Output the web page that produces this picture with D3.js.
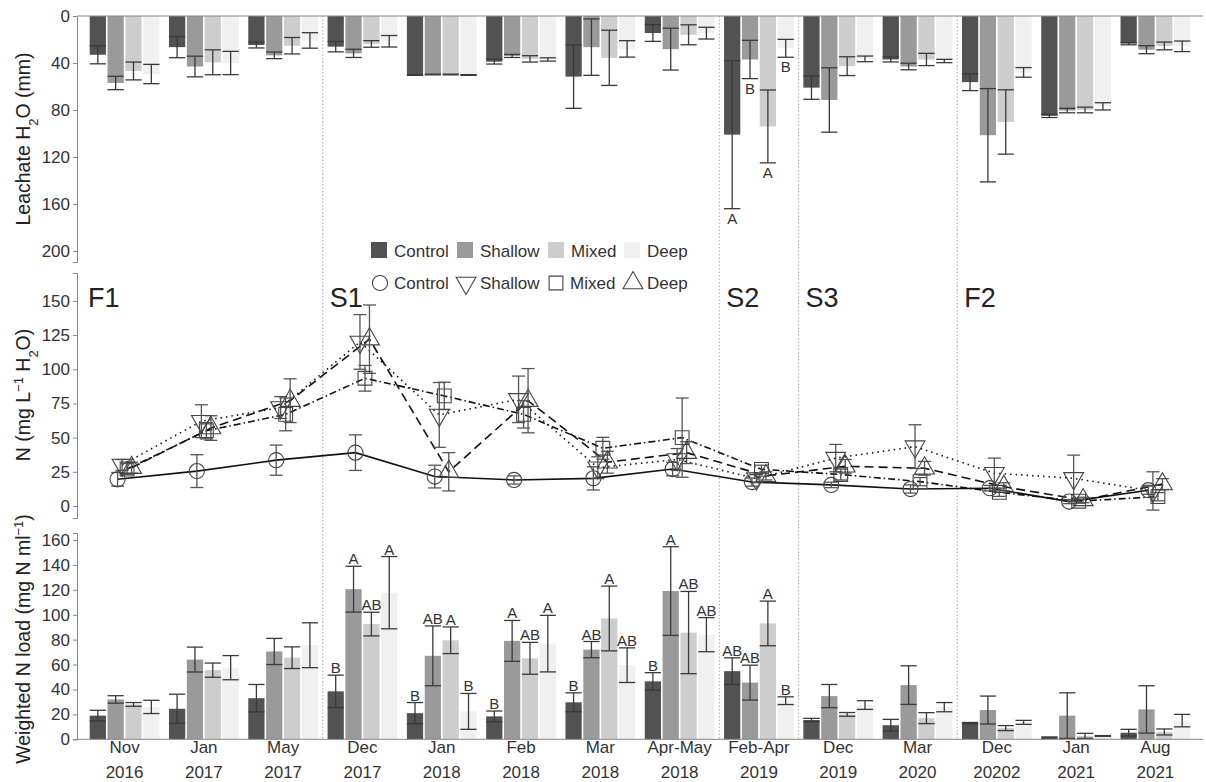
<!DOCTYPE html>
<html>
<head>
<meta charset="utf-8">
<script src="https://cdn.jsdelivr.net/npm/d3@7"></script>
<style>
  body { margin: 0; background: #fff; }
  svg { font-family: "Liberation Sans", Arial, sans-serif; }
</style>
</head>
<body>
<div id="vis-container"></div>
<script>
// categories
var months = ["Nov", "Jan", "May", "Dec", "Jan", "Feb", "Mar", "Apr-May", "Feb-Apr", "Dec", "Mar", "Dec", "Jan", "Aug"];
var years = ["2016", "2017", "2017", "2017", "2018", "2018", "2018", "2018", "2019", "2019", "2020", "20202", "2021", "2021"];
var treatments = ["Control", "Shallow", "Mixed", "Deep"];
var seasons = ["F1", "S1", "S2", "S3", "F2"];
var seasonStart = [0, 3, 8, 9, 11];

// leachate H2O (mm), rows = Control, Shallow, Mixed, Deep
var leachMean = [
	[33, 26.5, 24.7, 26.1, 50.2, 38.9, 51.6, 14.5, 101, 61, 37, 56.3, 85, 23.5],
	[57, 43, 33.5, 31.8, 49.8, 34, 26.5, 28.2, 37, 71.5, 43, 101.5, 80.5, 28.7],
	[46.8, 39.4, 25.3, 23.8, 49.8, 36.5, 35.6, 16, 94, 42.7, 37, 90.2, 80, 25.5],
	[49.4, 40, 20.8, 21.5, 50.2, 37, 28, 14.6, 27.5, 36.5, 38.3, 48, 76.9, 25.8]
];
var leachSe = [
	[7.7, 9, 2.5, 4.4, 0.3, 2, 27, 7.1, 63, 9.9, 2.1, 7.2, 1.4, 1],
	[5.7, 8.8, 2.8, 3.5, 0.3, 1.3, 24, 17.8, 16.3, 27.4, 2.8, 39.7, 1.9, 3.4],
	[7.6, 10.6, 7, 2.8, 0.3, 2.7, 23.5, 8.5, 31, 8, 5.2, 27.4, 2.4, 3.3],
	[8.2, 9.9, 6.6, 4.9, 0.3, 1.4, 7, 5, 7.6, 2.4, 1.4, 4.1, 3.1, 4.5]
];
var leachLetters = [
	["", "", "", "", "", "", "", "", "A", "", "", "", "", ""],
	["", "", "", "", "", "", "", "", "B", "", "", "", "", ""],
	["", "", "", "", "", "", "", "", "A", "", "", "", "", ""],
	["", "", "", "", "", "", "", "", "B", "", "", "", "", ""]
];

// N concentration (mg L-1 H2O)
var nMean = [
	[19.5, 25.5, 33.5, 39, 21.5, 19, 20.2, 27, 17.5, 15.4, 12.4, 13, 3.2, 11.5],
	[30, 62, 72, 120, 66.6, 78, 28, 34, 20, 35, 43.4, 24, 20.2, 11],
	[27, 55, 67, 93.4, 80.5, 67, 42.2, 50, 26.8, 23, 17.8, 10, 3.5, 6.8],
	[28, 57, 77, 122, 25, 77, 32, 39, 22, 29, 27.6, 14, 4.4, 16]
];
var nSe = [
	[5, 12, 11, 13, 8.3, 3, 8.5, 5, 3, 2, 3, 2, 1.5, 3],
	[4, 12, 8, 20, 23.7, 17, 8, 8, 3, 10, 16, 11, 17, 14],
	[4, 6, 12, 9.4, 10, 10, 8, 29, 3, 4, 3, 3, 1.5, 3],
	[4, 9, 16, 25, 14, 23.5, 8, 8, 3, 5, 5, 3, 2, 4]
];

// weighted N load (mg N ml-1)
var loadMean = [
	[19, 24.5, 33, 38.5, 21, 18.4, 29.7, 46.5, 54.7, 15.5, 11.3, 13, 1.6, 5.3],
	[32, 64, 70.5, 120.5, 67, 79, 72, 119, 45.5, 34.7, 43.5, 23.5, 19, 24],
	[28, 55.5, 65.5, 92.5, 79.5, 65, 97, 85.7, 93, 20, 17, 9, 2.8, 5.9],
	[26, 57.5, 75.5, 117.7, 22.4, 76.8, 59.5, 84, 31, 27.5, 25.8, 13.6, 2.7, 15]
];
var loadSe = [
	[4.3, 11.7, 11, 13, 8.5, 4.3, 7.6, 7, 10.7, 1.3, 4.7, 0.5, 0.3, 2.7],
	[3, 10, 10.5, 18.4, 24, 16.4, 6.5, 35.6, 14, 9.3, 15.5, 11.2, 18.3, 19],
	[1.5, 5.7, 8.7, 9.5, 10.7, 12.8, 26, 33, 17.9, 1.5, 4.4, 2, 2, 2.4],
	[5.3, 9.7, 18, 29, 14.4, 22.7, 13.9, 13.7, 3.1, 3.5, 3.7, 1.6, 0.3, 5]
];
var loadLetters = [
	["", "", "", "B", "B", "B", "B", "B", "AB", "", "", "", "", ""],
	["", "", "", "A", "AB", "A", "AB", "A", "AB", "", "", "", "", ""],
	["", "", "", "AB", "A", "AB", "A", "AB", "A", "", "", "", "", ""],
	["", "", "", "A", "B", "A", "AB", "AB", "B", "", "", "", "", ""]
];

var leachTicks = [0, 40, 80, 120, 160, 200];
var nTicks = [0, 25, 50, 75, 100, 125, 150];
var loadTicks = [0, 20, 40, 60, 80, 100, 120, 140, 160];

var fills = ["#525252", "#9a9a9a", "#cdcdcd", "#f0f0f0"];
var dashes = [null, "1.5,4", "7,3,1.5,3", "9,5"];
var symbols = [d3.symbolCircle, d3.symbolTriangle, d3.symbolSquare, d3.symbolTriangle];
var symSize = [180, 170, 190, 170];
var symRot = [0, 180, 0, 0];
var axisCol = "#888", textCol = "#333", errCol = "#3a3a3a";

var width = 1206, height = 782;
var svg = d3.select("#vis-container").append("svg")
	.attr("width", width).attr("height", height)
	.style("background", "#fff");

var x0 = 77, x1 = 1203;
var xScale = d3.scalePoint().domain(d3.range(months.length)).range([x0, x1]).padding(0.6);
var step = xScale.step();
var slot = step * 0.9 / 4;
var barW = slot - 1.6;
var barX = function (g, t) { return xScale(g) + (t - 1.5) * slot; };
var ptOff = [-7, -2.5, 2.5, 7];

var yTop = d3.scaleLinear().domain([0, 209.4]).range([16, 262]);
var yMid = d3.scaleLinear().domain([-8.8, 170.4]).range([518, 273]);
var yBot = d3.scaleLinear().domain([0, 165.6]).range([739.3, 533]);

// dotted season separators
seasonStart.slice(1).forEach(function (s) {
	var xs = xScale(s) - step / 2;
	svg.append("line")
		.attr("x1", xs).attr("x2", xs).attr("y1", 16).attr("y2", 739)
		.attr("stroke", "#aaa").attr("stroke-width", 1).attr("stroke-dasharray", "1.5,2");
});

function yAxis(scale, ticks) {
	var g = svg.append("g").attr("transform", "translate(" + x0 + ",0)")
		.call(d3.axisLeft(scale).tickValues(ticks).tickSize(4).tickPadding(3));
	g.select(".domain").attr("stroke", axisCol);
	g.selectAll(".tick line").attr("stroke", axisCol);
	g.selectAll(".tick text").attr("fill", textCol).style("font-size", "17px");
	return g;
}

function errBar(gx, lo, hi, w, col) {
	svg.append("line").attr("x1", gx).attr("x2", gx).attr("y1", lo).attr("y2", hi)
		.attr("stroke", col).attr("stroke-width", 1.3);
	[lo, hi].forEach(function (yy) {
		svg.append("line").attr("x1", gx - w / 2).attr("x2", gx + w / 2).attr("y1", yy).attr("y2", yy)
			.attr("stroke", col).attr("stroke-width", 1.3);
	});
}

// ---- top panel: leachate ----
treatments.forEach(function (t, ti) {
	leachMean[ti].forEach(function (v, gi) {
		svg.append("rect")
			.attr("x", barX(gi, ti) - barW / 2).attr("y", yTop(0))
			.attr("width", barW).attr("height", yTop(v) - yTop(0))
			.attr("fill", fills[ti]);
	});
});
treatments.forEach(function (t, ti) {
	leachMean[ti].forEach(function (v, gi) {
		var se = leachSe[ti][gi];
		errBar(barX(gi, ti), yTop(v - se), yTop(v + se), barW, errCol);
		var lab = leachLetters[ti][gi];
		if (lab) {
			svg.append("text").attr("x", barX(gi, ti)).attr("y", yTop(v + se) + 15)
				.attr("text-anchor", "middle").attr("fill", textCol).style("font-size", "15px").text(lab);
		}
	});
});
svg.append("line").attr("x1", x0).attr("x2", x1).attr("y1", yTop(0)).attr("y2", yTop(0))
	.attr("stroke", axisCol);
yAxis(yTop, leachTicks);

// bar legend
var legBarX = [371, 457, 548, 624];
treatments.forEach(function (t, ti) {
	svg.append("rect").attr("x", legBarX[ti]).attr("y", 242).attr("width", 16).attr("height", 16)
		.attr("fill", fills[ti]);
	svg.append("text").attr("x", legBarX[ti] + 23).attr("y", 257)
		.attr("fill", textCol).style("font-size", "17px").text(t);
});

// ---- middle panel: N concentration ----
treatments.forEach(function (t, ti) {
	var line = d3.line()
		.x(function (d, gi) { return xScale(gi) + ptOff[ti]; })
		.y(function (d) { return yMid(d); });
	svg.append("path").datum(nMean[ti])
		.attr("fill", "none").attr("stroke", "#111").attr("stroke-width", 1.6)
		.attr("stroke-dasharray", dashes[ti])
		.attr("d", line);
});
treatments.forEach(function (t, ti) {
	nMean[ti].forEach(function (v, gi) {
		var se = nSe[ti][gi];
		errBar(xScale(gi) + ptOff[ti], yMid(v - se), yMid(v + se), 13, "#555");
	});
});
treatments.forEach(function (t, ti) {
	nMean[ti].forEach(function (v, gi) {
		svg.append("path")
			.attr("d", d3.symbol().type(symbols[ti]).size(symSize[ti])())
			.attr("transform", "translate(" + (xScale(gi) + ptOff[ti]) + "," + yMid(v) + ") rotate(" + symRot[ti] + ")")
			.attr("fill", "none").attr("stroke", "#444").attr("stroke-width", 1.1);
	});
});
yAxis(yMid, nTicks);

// season labels
seasons.forEach(function (s, si) {
	var xs = seasonStart[si] === 0 ? 88 : xScale(seasonStart[si]) - step / 2 + 7;
	svg.append("text").attr("x", xs).attr("y", 307)
		.attr("fill", "#222").style("font-size", "27px").text(s);
});

// point legend
var legPtX = [380, 466, 556, 633];
treatments.forEach(function (t, ti) {
	svg.append("path")
		.attr("d", d3.symbol().type(symbols[ti]).size(symSize[ti])())
		.attr("transform", "translate(" + legPtX[ti] + ",283) rotate(" + symRot[ti] + ")")
		.attr("fill", "none").attr("stroke", "#444").attr("stroke-width", 1.1);
	svg.append("text").attr("x", legPtX[ti] + 14).attr("y", 289)
		.attr("fill", textCol).style("font-size", "17px").text(t);
});

// ---- bottom panel: weighted N load ----
treatments.forEach(function (t, ti) {
	loadMean[ti].forEach(function (v, gi) {
		svg.append("rect")
			.attr("x", barX(gi, ti) - barW / 2).attr("y", yBot(v))
			.attr("width", barW).attr("height", yBot(0) - yBot(v))
			.attr("fill", fills[ti]);
	});
});
treatments.forEach(function (t, ti) {
	loadMean[ti].forEach(function (v, gi) {
		var se = loadSe[ti][gi];
		errBar(barX(gi, ti), yBot(Math.max(0, v - se)), yBot(v + se), barW, errCol);
		var lab = loadLetters[ti][gi];
		if (lab) {
			svg.append("text").attr("x", barX(gi, ti)).attr("y", yBot(v + se) - 2)
				.attr("text-anchor", "middle").attr("fill", textCol).style("font-size", "15px").text(lab);
		}
	});
});
svg.append("line").attr("x1", x0).attr("x2", x1).attr("y1", yBot(0)).attr("y2", yBot(0))
	.attr("stroke", axisCol);
yAxis(yBot, loadTicks);

// x labels
months.forEach(function (m, gi) {
	var tx = svg.append("text").attr("text-anchor", "middle").attr("fill", textCol).style("font-size", "17px");
	tx.append("tspan").attr("x", xScale(gi)).attr("y", 753).text(m);
	tx.append("tspan").attr("x", xScale(gi)).attr("y", 778).text(years[gi]);
});

// axis titles
function yTitle(cy, parts) {
	var tx = svg.append("text")
		.attr("transform", "translate(30," + cy + ") rotate(-90)")
		.attr("text-anchor", "middle").attr("fill", "#222").style("font-size", "19.5px");
	parts.forEach(function (p) {
		var ts = tx.append("tspan").text(p[0]);
		if (p[1] === "sub") ts.attr("baseline-shift", "sub").style("font-size", "13px");
		if (p[1] === "sup") ts.attr("baseline-shift", "super").style("font-size", "13px");
	});
}
yTitle(139, [["Leachate H"], ["2", "sub"], ["O (mm)"]]);
yTitle(395, [["N (mg L"], ["\u22121", "sup"], [" H"], ["2", "sub"], ["O)"]]);
yTitle(639, [["Weighted N load (mg N ml"], ["\u22121", "sup"], [")"]]);
</script>
</body>
</html>
